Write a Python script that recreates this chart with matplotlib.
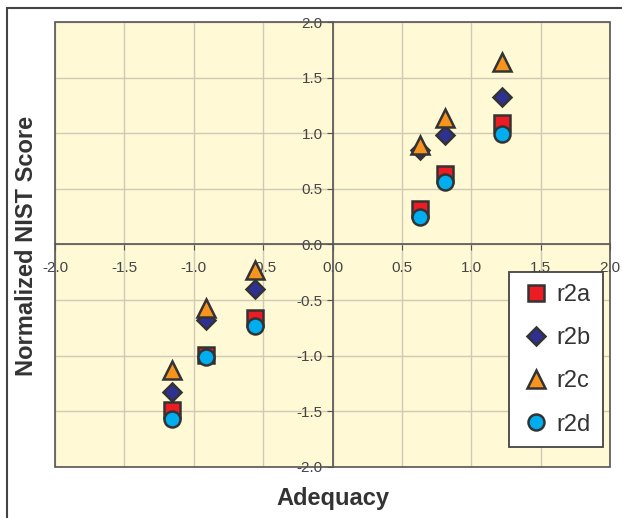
import matplotlib.pyplot as plt
from matplotlib.patches import Rectangle

plt.rcParams['font.family'] = ['Liberation Sans', 'DejaVu Sans']

# adequacy per system, one normalized NIST score per run
adequacy = [-1.16, -0.91, -0.56, 0.63, 0.81, 1.22]
r2a = [-1.49, -0.99, -0.66, 0.32, 0.63, 1.09]
r2b = [-1.33, -0.68, -0.40, 0.85, 0.98, 1.33]
r2c = [-1.13, -0.57, -0.23, 0.89, 1.14, 1.64]
r2d = [-1.57, -1.01, -0.73, 0.25, 0.56, 0.99]

series = [
    ('r2a', r2a, 's', '#ED1C24', 11.5),
    ('r2b', r2b, 'D', '#2E3192', 9),
    ('r2c', r2c, '^', '#F7941D', 12.5),
    ('r2d', r2d, 'o', '#00AEEF', 11.5),
]

fig = plt.figure(figsize=(6.22, 5.18), dpi=100)
ax = fig.add_axes([0.0884, 0.0985, 0.8926, 0.859])
ax.set_facecolor('#FFF9D6')

for name, vals, mk, col, ms in series:
    ax.plot(adequacy, vals, linestyle='none', marker=mk, markersize=ms,
            markerfacecolor=col, markeredgecolor='#333333',
            markeredgewidth=1.8, label=name, zorder=5)

ax.set_xlim(-2, 2)
ax.set_ylim(-2, 2)
ax.set_xticks([-2, -1.5, -1, -0.5, 0, 0.5, 1, 1.5, 2])
ax.set_yticks([-2, -1.5, -1, -0.5, 0, 0.5, 1, 1.5, 2])
ax.xaxis.set_major_formatter(plt.FormatStrFormatter('%.1f'))
ax.yaxis.set_major_formatter(plt.FormatStrFormatter('%.1f'))
ax.grid(True, color='#CFCAB4', linewidth=1)
ax.set_axisbelow(True)

# axes cross at the origin
ax.spines['left'].set_position(('data', 0))
ax.spines['bottom'].set_position(('data', 0))
ax.spines['top'].set_visible(False)
ax.spines['right'].set_visible(False)
for s in ('left', 'bottom'):
    ax.spines[s].set_color('#555555')
    ax.spines[s].set_linewidth(1.2)
ax.tick_params(axis='x', direction='out', length=4, color='#555555',
               labelsize=11, labelcolor='#444444', pad=8)
ax.tick_params(axis='y', direction='out', length=4, color='#555555',
               labelsize=11, labelcolor='#444444', pad=3)

# plot-area frame
ax.add_patch(Rectangle((0, 0), 1, 1, transform=ax.transAxes, fill=False,
                       edgecolor='#555555', linewidth=1.2, clip_on=False, zorder=6))

# outer chart frame
fig.patches.append(Rectangle((7 / 622, -0.05), 1.1, 1 - 8 / 518 + 0.05,
                             transform=fig.transFigure, fill=False,
                             edgecolor='#444444', linewidth=1.5))

fig.text(0.535, 0.037, 'Adequacy', ha='center', va='center',
         fontsize=17, fontweight='bold', color='#333333')
fig.text(0.043, 0.525, 'Normalized NIST Score', ha='center', va='center',
         rotation=90, fontsize=17, fontweight='bold', color='#333333')

leg = ax.legend(loc='upper left', bbox_to_anchor=(0.818, 0.438),
                borderaxespad=0, fontsize=17, labelspacing=0.9,
                handlelength=1.27, handletextpad=0.25, borderpad=0.5,
                fancybox=False, framealpha=1, edgecolor='#444444',
                markerscale=1.0, shadow=False)
leg.get_frame().set_linewidth(1.3)
for t in leg.get_texts():
    t.set_color('#333333')

plt.savefig('out.png', dpi=100)
